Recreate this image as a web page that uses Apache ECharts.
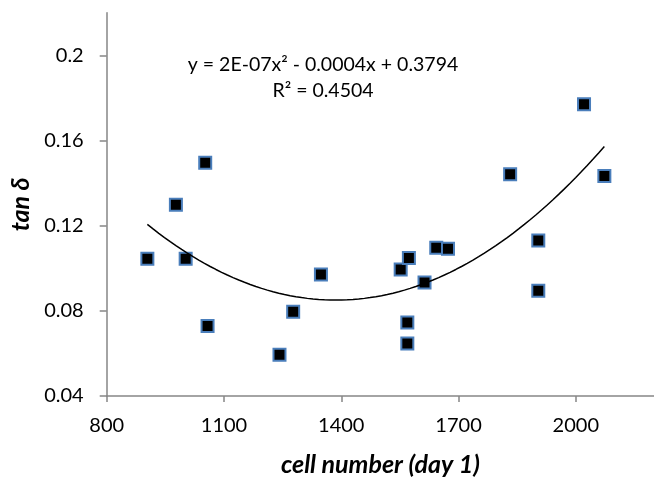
<!DOCTYPE html>
<html>
<head>
<meta charset="utf-8">
<script src="https://cdn.jsdelivr.net/npm/echarts@6/dist/echarts.min.js"></script>
<style>
html,body{margin:0;padding:0;background:#fff;}
#chart{width:654px;height:482px;}
</style>
</head>
<body>
<div id="chart"></div>
<script>
var cellNumber = [904, 977, 1052, 1002, 1058, 1242, 1277, 1348, 1552, 1573, 1569, 1569, 1613, 1643, 1673, 1832, 1904, 1904, 2021, 2073];
var tanDelta   = [0.1045, 0.1298, 0.1495, 0.1045, 0.0729, 0.0594, 0.0796, 0.0970, 0.0994, 0.1048, 0.0745, 0.0646, 0.0933, 0.1096, 0.1092, 0.1441, 0.1130, 0.0894, 0.1770, 0.1433];
var xTicks = [800, 1100, 1400, 1700, 2000];
var yTicks = [0.04, 0.08, 0.12, 0.16, 0.2];
var equationText = 'y = 2E-07x\u00B2 - 0.0004x + 0.3794';
var r2Text = 'R\u00B2 = 0.4504';
var xTitle = 'cell number (day 1)';
var yTitle = 'tan \u03B4';

// quadratic least-squares fit (trendline) computed from the data
function fitQuadratic(xs, ys) {
  var n = xs.length, mx = 0;
  for (var i = 0; i < n; i++) mx += xs[i];
  mx /= n;
  var S = [0,0,0,0,0], T = [0,0,0];
  for (i = 0; i < n; i++) {
    var u = (xs[i] - mx) / 1000, p = 1;
    for (var k = 0; k < 5; k++) { S[k] += p; if (k < 3) T[k] += p * ys[i]; p *= u; }
  }
  var A = [[S[0],S[1],S[2],T[0]],[S[1],S[2],S[3],T[1]],[S[2],S[3],S[4],T[2]]];
  for (var c = 0; c < 3; c++) {
    for (var r = c + 1; r < 3; r++) {
      var f = A[r][c] / A[c][c];
      for (var j = c; j < 4; j++) A[r][j] -= f * A[c][j];
    }
  }
  var b = [0,0,0];
  for (r = 2; r >= 0; r--) {
    var s = A[r][3];
    for (j = r + 1; j < 3; j++) s -= A[r][j] * b[j];
    b[r] = s / A[r][r];
  }
  return function (x) { var u = (x - mx) / 1000; return b[0] + b[1] * u + b[2] * u * u; };
}
var fit = fitQuadratic(cellNumber, tanDelta);
var xmin = Math.min.apply(null, cellNumber), xmax = Math.max.apply(null, cellNumber);
var trend = [];
for (var i = 0; i <= 80; i++) { var x = xmin + (xmax - xmin) * i / 80; trend.push([x, fit(x)]); }

var pts = cellNumber.map(function (x, i) { return [x, tanDelta[i]]; });
var FONT = 'Lato';
var axisColor = '#868686';

var chart = echarts.init(document.getElementById('chart'), null, {renderer: 'canvas'});
chart.setOption({
  animation: false,
  backgroundColor: '#fff',
  grid: {left: 106.7, right: -12.7, top: 12.7, bottom: 85.3, containLabel: false},
  xAxis: {
    type: 'value', min: 800, max: 2200, interval: 300,
    name: xTitle, nameLocation: 'middle', nameGap: 56,
    nameTextStyle: {fontFamily: FONT, fontSize: 25, fontWeight: 'bold', fontStyle: 'italic', color: '#000'},
    axisLine: {show: true, lineStyle: {color: axisColor, width: 1.5}},
    axisTick: {show: true, inside: false, length: 6, lineStyle: {color: axisColor, width: 1.5}, customValues: xTicks},
    axisLabel: {fontFamily: FONT, fontSize: 20, color: '#000', margin: 20, customValues: xTicks,
      formatter: function (v) { return String(Math.round(v)); }},
    splitLine: {show: false}
  },
  yAxis: {
    type: 'value', min: 0.04, max: 0.22, interval: 0.04,
    name: yTitle, nameLocation: 'middle', nameGap: 65, nameRotate: 90,
    nameTextStyle: {fontFamily: FONT, fontSize: 25, fontWeight: 'bold', fontStyle: 'italic', color: '#000'},
    axisLine: {show: true, lineStyle: {color: axisColor, width: 1.5}},
    axisTick: {show: true, inside: false, length: 7, lineStyle: {color: axisColor, width: 1.5}, customValues: yTicks},
    axisLabel: {fontFamily: FONT, fontSize: 20, color: '#000', margin: 23, customValues: yTicks,
      formatter: function (v) { return String(+(+v).toFixed(2)); }},
    splitLine: {show: false}
  },
  graphic: [
    {type: 'text', x: 323, y: 65, z: 10, style: {text: equationText, font: '19.5px Lato', fill: '#000', align: 'center', verticalAlign: 'middle'}},
    {type: 'text', x: 323, y: 91, z: 10, style: {text: r2Text, font: '19.5px Lato', fill: '#000', align: 'center', verticalAlign: 'middle'}}
  ],
  series: [
    {type: 'scatter', data: pts, symbol: 'rect', symbolSize: 12, z: 2,
     itemStyle: {color: '#000', borderColor: '#4a7ebb', borderWidth: 2, opacity: 1}},
    {type: 'line', data: trend, showSymbol: false, symbol: 'none', z: 3,
     lineStyle: {color: '#000', width: 1.5}}
  ]
});
</script>
</body>
</html>
